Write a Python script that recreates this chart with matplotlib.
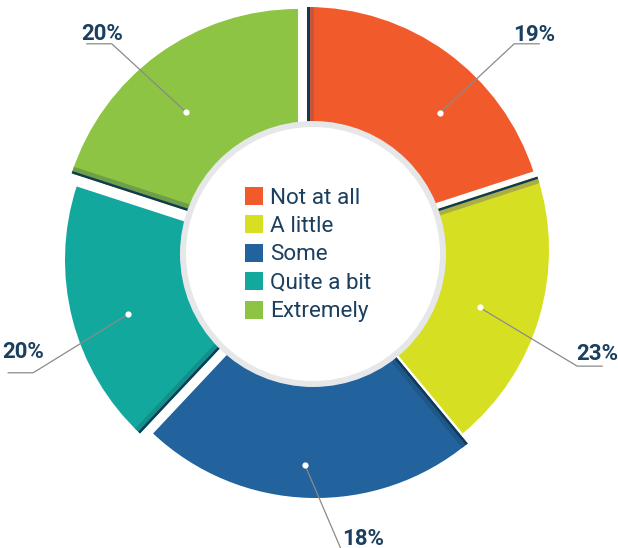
import numpy as np
import matplotlib.pyplot as plt
from matplotlib.patches import Wedge, Circle, Polygon, Rectangle

# data
categories = ['Not at all', 'A little', 'Some', 'Quite a bit', 'Extremely']
slice_values = [20, 19, 23, 18, 20]
pct_labels = ['19%', '23%', '18%', '20%', '20%']

colors = ['#F15B2B', '#D7DF23', '#22629D', '#13A89E', '#8DC443']
shades = ['#C4563A', '#A9AE45', '#1E5788', '#12908A', '#6E9E48']
navy = '#1B3F5E'
edge_navy = '#123A57'

plt.rcParams['font.family'] = ['Roboto', 'DejaVu Sans']

fig = plt.figure(figsize=(6.18, 5.48), dpi=100)
ax = fig.add_axes([0, 0, 1, 1])
ax.set_xlim(0, 618)
ax.set_ylim(0, 548)
ax.set_aspect('equal')
ax.axis('off')

cx, cy = 313, 294
r_out, r_in = 238, 108
# how far each slice is pulled away from the ring centre (x, y)
slice_shift = [(-6, 9), (-2, 4), (3, -6), (-10, -6), (-15, 7)]


def unit(deg):
    t = np.radians(deg)
    return np.array([np.cos(t), np.sin(t)])


# slices go clockwise from 12 o'clock
total = sum(slice_values)
ends = 90 - 360 * np.cumsum(slice_values) / total
starts = np.concatenate([[90], ends[:-1]])
mids = (starts + ends) / 2

for i in range(len(slice_values)):
    c = np.array([cx, cy]) + np.array(slice_shift[i])
    w = Wedge(c, r_out, ends[i], starts[i], width=r_out - r_in,
              facecolor=colors[i], linewidth=0, zorder=1)
    ax.add_patch(w)
    # shadow strip along the leading edge
    u = unit(starts[i])
    n = np.array([np.sin(np.radians(starts[i])), -np.cos(np.radians(starts[i]))])
    for width, col in [(7, shades[i]), (2.5, edge_navy)]:
        pts = [c + (r_in - 5) * u, c + (r_out + 5) * u,
               c + (r_out + 5) * u + width * n, c + (r_in - 5) * u + width * n]
        strip = Polygon(pts, closed=True, facecolor=col, linewidth=0, zorder=2)
        ax.add_patch(strip)
        strip.set_clip_path(w)

# center ring
ax.add_patch(Circle((cx, cy), 133, facecolor='#E6E7E8', linewidth=0, zorder=3))
ax.add_patch(Circle((cx, cy), 127, facecolor='white', linewidth=0, zorder=4))

# legend in the hole
for i, cat in enumerate(categories):
    y = cy + 1.5 + (2 - i) * 28.5
    ax.add_patch(Rectangle((cx - 68, y - 9), 18, 18, facecolor=colors[i],
                           linewidth=0, zorder=5))
    ax.text(cx - 43, y - 8, cat, fontsize=16.2, color=navy, va='baseline',
            ha='left', zorder=5)

# leader lines and percentage labels
dot_nudge = [-6, -1.6, -0.4, 3.6, 5.8]
dot_r = [190, 175, 211, 194, 190]
elbow_nudge = [-7.75, -6.8, 7.5, 8.6, 7.75]
elbow_r = [291, 287, 301, 304, 291]
text_lift = [3, 6, 9, 15, 4]

for i, lab in enumerate(pct_labels):
    dot = np.array([cx, cy]) + dot_r[i] * unit(mids[i] + dot_nudge[i])
    elb = np.array([cx, cy]) + elbow_r[i] * unit(mids[i] + elbow_nudge[i])
    side = 1 if elb[0] > cx else -1
    tail = elb + np.array([side * 25, 0])
    ax.plot([dot[0], elb[0], tail[0]], [dot[1], elb[1], tail[1]],
            color='#8A8A8A', linewidth=0.9, zorder=6, clip_on=False)
    ax.plot(dot[0], dot[1], 'o', color='white', markersize=4.5,
            markeredgewidth=0, zorder=7)
    if side > 0:
        ax.text(elb[0] - 1, elb[1] + text_lift[i], lab, ha='left',
                va='baseline', fontsize=16, fontweight='bold', color=navy)
    else:
        ax.text(elb[0] + 11, elb[1] + text_lift[i], lab, ha='right',
                va='baseline', fontsize=16, fontweight='bold', color=navy)

fig.savefig('out.png', dpi=100)
